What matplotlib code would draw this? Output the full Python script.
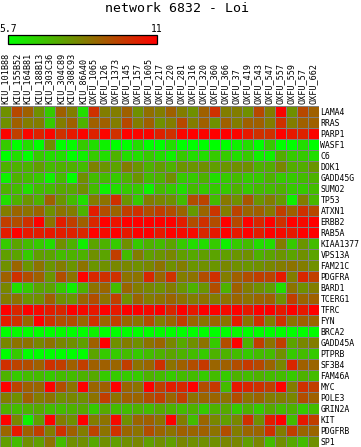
"""Expression heatmap for network 6832 (Loi): genes x samples, green-red scale."""

import matplotlib

matplotlib.use("Agg")
import matplotlib.pyplot as plt
import numpy as np
from matplotlib.colors import LinearSegmentedColormap

TITLE = "network 6832 - Loi"
VMIN, VMAX = 5.7, 11.0

SAMPLES = [
    "KIU_101B88", "KIU_155B52", "KIU_164B81", "KIU_188B13", "KIU_303C36",
    "KIU_304C89", "KIU_308C93", "KIU_86A40", "OXFU_1065", "OXFU_126",
    "OXFU_1373", "OXFU_145", "OXFU_157", "OXFU_1605", "OXFU_217",
    "OXFU_220", "OXFU_281", "OXFU_316", "OXFU_320", "OXFU_360",
    "OXFU_366", "OXFU_37", "OXFU_419", "OXFU_543", "OXFU_547",
    "OXFU_557", "OXFU_559", "OXFU_57", "OXFU_662",
]

GENES = [
    "LAMA4", "RRAS", "PARP1", "WASF1", "C6", "DOK1", "GADD45G", "SUMO2",
    "TP53", "ATXN1", "ERBB2", "RAB5A", "KIAA1377", "VPS13A", "FAM21C",
    "PDGFRA", "BARD1", "TCERG1", "TFRC", "FYN", "BRCA2", "GADD45A",
    "PTPRB", "SF3B4", "FAM46A", "MYC", "POLE3", "GRIN2A", "KIT", "PDGFRB", "SP1",
]

# one row per gene, values in sample order
LAMA4 = [8.0, 9.5, 9.0, 8.0, 6.8, 9.0, 8.4, 6.4, 10.0, 8.4, 8.4, 9.0, 8.0, 8.7, 8.4, 9.0, 8.4, 8.0, 9.0, 10.0, 8.4, 8.4, 8.0, 9.5, 8.4, 10.9, 8.0, 9.5, 9.0]
RRAS = [8.0, 9.0, 8.4, 8.4, 6.8, 8.4, 9.0, 7.3, 9.0, 9.0, 8.4, 9.5, 8.4, 9.0, 8.0, 8.4, 9.5, 8.4, 9.0, 8.0, 9.0, 8.4, 9.0, 9.0, 8.4, 10.0, 8.4, 9.0, 9.0]
PARP1 = [10.9, 9.7, 10.9, 10.3, 10.9, 10.0, 10.5, 10.9, 10.3, 10.9, 10.0, 11.0, 10.9, 10.9, 10.3, 10.0, 10.9, 11.0, 10.9, 11.0, 11.0, 10.9, 10.5, 10.0, 10.0, 11.0, 10.5, 10.3, 10.9]
WASF1 = [6.8, 5.7, 6.4, 5.7, 8.0, 5.7, 5.8, 6.8, 6.4, 6.0, 5.7, 5.7, 6.4, 5.7, 5.7, 6.4, 5.7, 5.7, 5.7, 5.7, 5.7, 6.0, 6.4, 5.7, 6.8, 5.7, 5.7, 6.4, 5.7]
C6 = [5.7, 6.4, 5.7, 6.8, 6.4, 6.4, 5.7, 6.0, 6.8, 6.4, 7.3, 6.4, 6.4, 6.8, 6.4, 6.0, 6.8, 6.4, 6.4, 6.8, 6.8, 6.4, 6.8, 6.0, 6.0, 7.4, 6.8, 6.8, 6.4]
DOK1 = [7.3, 7.3, 7.3, 7.7, 7.1, 7.3, 7.3, 7.1, 8.3, 7.9, 7.6, 8.4, 7.9, 7.3, 7.7, 7.3, 7.9, 7.9, 8.0, 7.7, 7.9, 8.0, 8.0, 7.3, 7.4, 8.2, 7.4, 7.4, 7.9]
GADD45G = [6.0, 7.3, 7.1, 6.8, 6.0, 7.1, 5.7, 8.0, 7.1, 7.1, 6.8, 7.3, 7.9, 7.1, 7.3, 8.0, 6.8, 6.8, 7.3, 6.4, 6.8, 7.1, 6.8, 6.8, 7.3, 6.8, 6.8, 7.1, 7.3]
SUMO2 = [7.3, 7.1, 6.4, 7.1, 7.1, 7.5, 7.5, 8.0, 7.1, 6.0, 6.4, 6.8, 6.8, 6.0, 7.1, 6.8, 6.4, 7.1, 6.8, 6.8, 6.8, 7.3, 6.8, 7.1, 7.1, 7.3, 6.8, 6.8, 7.1]
TP53 = [6.4, 7.3, 7.9, 7.3, 9.0, 7.9, 7.1, 6.4, 8.4, 8.6, 10.0, 7.9, 6.8, 8.4, 8.2, 8.0, 7.1, 9.4, 9.6, 7.1, 8.5, 8.0, 9.2, 7.9, 8.4, 7.8, 6.0, 8.4, 7.2]
ATXN1 = [8.4, 8.9, 8.6, 8.9, 8.0, 8.6, 8.4, 7.3, 10.4, 9.4, 8.9, 9.7, 10.0, 9.4, 9.7, 9.4, 8.9, 7.8, 8.9, 9.9, 8.4, 9.6, 8.9, 9.0, 8.5, 9.7, 9.0, 10.0, 9.5]
ERBB2 = [9.7, 9.4, 10.0, 11.0, 8.6, 10.4, 9.7, 9.0, 10.2, 11.0, 10.6, 11.0, 11.0, 11.0, 11.0, 11.0, 10.4, 9.4, 10.0, 9.4, 11.0, 9.5, 11.0, 10.2, 11.0, 10.0, 11.0, 10.8, 11.0]
RAB5A = [10.4, 11.0, 10.5, 10.4, 10.5, 10.4, 10.3, 10.2, 11.0, 10.8, 11.0, 10.5, 11.0, 11.0, 10.5, 11.0, 10.8, 10.8, 10.2, 10.5, 11.0, 10.5, 11.0, 10.4, 11.0, 10.8, 10.5, 11.0, 11.0]
KIAA1377 = [6.8, 7.6, 7.1, 6.8, 6.4, 8.0, 7.3, 6.0, 7.6, 7.3, 6.8, 8.0, 6.8, 7.3, 7.1, 7.6, 6.8, 6.4, 6.4, 6.8, 6.0, 6.8, 7.1, 6.4, 6.4, 8.4, 6.8, 7.9, 7.1]
VPS13A = [7.7, 7.6, 6.8, 7.7, 7.6, 7.1, 7.3, 7.3, 8.0, 7.6, 9.7, 7.1, 8.4, 7.7, 7.9, 8.2, 7.7, 7.5, 7.7, 7.6, 7.7, 7.9, 8.0, 7.3, 7.6, 7.9, 7.6, 8.0, 7.6]
FAM21C = [8.0, 8.9, 7.9, 8.6, 7.9, 8.4, 7.9, 8.6, 7.9, 8.0, 8.2, 8.2, 8.0, 8.2, 8.6, 8.0, 8.4, 7.9, 8.0, 7.9, 8.2, 8.0, 7.9, 8.0, 8.2, 8.4, 8.6, 8.4, 8.0]
PDGFRA = [9.0, 10.0, 9.4, 9.0, 7.9, 9.4, 8.6, 11.0, 10.2, 10.0, 10.0, 8.6, 8.6, 10.2, 8.9, 10.0, 8.4, 8.6, 9.4, 10.0, 8.4, 9.0, 9.4, 9.7, 9.6, 10.5, 8.4, 10.2, 9.7]
BARD1 = [8.2, 6.4, 6.8, 7.6, 7.6, 6.8, 6.0, 7.3, 8.6, 8.9, 7.1, 8.9, 8.4, 8.2, 8.0, 8.4, 7.9, 7.3, 7.9, 9.4, 7.3, 9.0, 8.4, 8.0, 7.7, 6.4, 8.6, 8.0, 8.4]
TCERG1 = [8.4, 8.6, 7.9, 8.0, 9.0, 8.0, 7.9, 8.9, 9.4, 8.6, 9.7, 8.0, 8.9, 8.4, 8.6, 8.9, 8.6, 8.4, 8.6, 8.4, 8.6, 8.9, 8.6, 8.9, 9.0, 8.0, 9.7, 8.9, 9.0]
TFRC = [11.0, 10.2, 11.0, 10.8, 10.4, 10.2, 11.0, 10.8, 10.5, 11.0, 10.5, 11.0, 11.0, 10.8, 11.0, 10.2, 11.0, 10.5, 11.0, 11.0, 10.8, 11.0, 10.5, 11.0, 11.0, 10.5, 11.0, 10.5, 11.0]
FYN = [10.4, 10.0, 8.9, 11.0, 10.0, 9.4, 9.4, 8.9, 10.0, 8.9, 9.7, 8.9, 8.6, 9.4, 8.4, 8.9, 9.7, 8.9, 8.6, 8.9, 8.6, 10.4, 8.6, 10.0, 8.4, 10.0, 8.6, 9.0, 8.9]
BRCA2 = [5.7, 5.8, 5.7, 5.7, 5.7, 5.8, 5.7, 5.7, 6.0, 5.7, 5.7, 5.7, 5.7, 5.7, 5.8, 5.7, 5.7, 5.7, 5.7, 5.7, 5.7, 5.8, 5.7, 5.7, 5.7, 5.7, 5.7, 5.7, 5.7]
GADD45A = [8.2, 8.6, 8.6, 8.2, 8.6, 8.2, 8.0, 7.7, 9.0, 11.0, 8.0, 8.4, 8.0, 8.6, 8.9, 8.2, 7.5, 8.0, 8.6, 6.8, 9.4, 11.0, 7.3, 9.7, 8.6, 9.7, 7.6, 8.2, 8.4]
PTPRB = [5.7, 6.8, 5.7, 5.7, 5.7, 5.7, 5.7, 5.7, 7.6, 6.8, 6.8, 7.1, 6.8, 7.1, 7.3, 7.6, 7.3, 7.1, 6.8, 7.3, 7.3, 7.1, 6.8, 7.1, 7.1, 8.0, 6.8, 7.1, 6.8]
SF3B4 = [10.0, 9.6, 9.4, 9.0, 10.0, 9.7, 9.0, 9.7, 9.0, 9.0, 8.9, 9.7, 8.6, 8.9, 10.0, 8.6, 9.0, 9.4, 9.8, 8.9, 9.0, 9.4, 9.8, 9.5, 8.9, 8.2, 10.2, 9.0, 8.9]
FAM46A = [7.3, 6.8, 7.1, 7.1, 6.8, 7.1, 7.1, 7.3, 7.5, 6.8, 6.8, 6.8, 6.8, 7.3, 7.1, 6.8, 7.1, 7.1, 6.8, 7.1, 6.8, 7.3, 7.1, 7.3, 7.1, 7.1, 6.8, 7.3, 7.1]
MYC = [11.0, 9.6, 9.0, 8.9, 11.0, 9.4, 8.6, 11.0, 8.9, 9.0, 11.0, 8.9, 8.6, 11.0, 9.7, 10.4, 10.2, 11.0, 9.4, 9.8, 7.1, 10.5, 10.2, 10.0, 9.7, 11.0, 8.4, 10.0, 9.7]
POLE3 = [8.4, 8.0, 9.0, 8.4, 8.6, 8.0, 8.2, 8.0, 8.6, 9.7, 8.6, 9.0, 8.9, 9.4, 9.7, 8.9, 9.7, 8.6, 8.9, 8.9, 8.6, 9.4, 8.6, 8.9, 8.4, 8.4, 8.2, 9.4, 9.0]
GRIN2A = [7.3, 7.1, 7.3, 7.5, 7.1, 7.1, 7.3, 7.5, 6.8, 7.5, 7.1, 7.1, 7.3, 7.1, 7.5, 7.3, 7.1, 7.3, 6.8, 7.3, 7.5, 6.8, 7.3, 6.8, 7.5, 7.1, 7.3, 6.8, 7.1]
KIT = [11.0, 8.2, 6.0, 7.7, 11.0, 8.4, 8.0, 11.0, 8.4, 8.6, 10.8, 8.0, 8.9, 9.0, 8.6, 11.0, 8.4, 7.1, 8.9, 8.2, 7.7, 8.2, 10.0, 8.0, 10.4, 11.0, 7.1, 10.5, 9.7]
PDGFRB = [8.9, 10.5, 9.0, 9.7, 8.4, 10.0, 9.0, 8.4, 9.6, 8.6, 10.0, 8.9, 8.6, 9.4, 8.9, 8.6, 9.0, 8.9, 9.0, 8.6, 9.4, 8.4, 8.9, 8.9, 10.0, 8.4, 9.7, 8.9, 8.9]
SP1 = [7.7, 7.1, 8.0, 7.7, 8.6, 7.1, 8.0, 8.0, 7.5, 8.0, 7.7, 8.0, 8.2, 7.7, 8.0, 7.7, 8.2, 8.0, 8.0, 8.0, 8.2, 8.2, 7.7, 8.2, 7.1, 8.0, 7.5, 7.1, 8.0]

ROWS = [LAMA4, RRAS, PARP1, WASF1, C6, DOK1, GADD45G, SUMO2, TP53, ATXN1, ERBB2,
        RAB5A, KIAA1377, VPS13A, FAM21C, PDGFRA, BARD1, TCERG1, TFRC, FYN, BRCA2,
        GADD45A, PTPRB, SF3B4, FAM46A, MYC, POLE3, GRIN2A, KIT, PDGFRB, SP1]

W, H = 361, 447  # px


def main() -> None:
    plt.rcParams["font.family"] = ["DejaVu Sans Mono"]
    expr = np.array(ROWS)
    cmap = LinearSegmentedColormap.from_list("gr", ["#00ff00", "#808000", "#ff0000"])

    fig = plt.figure(figsize=(W / 100, H / 100), dpi=100)
    ax = fig.add_axes([0, 0, 319 / W, 341 / H])
    mesh = ax.pcolormesh(expr, cmap=cmap, vmin=VMIN, vmax=VMAX,
                         edgecolors="#808080", linewidth=0.7, snap=True)
    ax.set_xlim(0, len(SAMPLES))
    ax.set_ylim(len(GENES), 0)
    for s in ax.spines.values():
        s.set_visible(False)

    ax.xaxis.tick_top()
    ax.set_xticks(np.arange(len(SAMPLES)) + 0.5)
    ax.set_xticklabels(SAMPLES, rotation=90, fontsize=6.1)
    ax.yaxis.tick_right()
    ax.set_yticks(np.arange(len(GENES)) + 0.5)
    ax.set_yticklabels(GENES, fontsize=5.9)
    ax.tick_params(axis="x", length=0, pad=1.5)
    ax.tick_params(axis="y", length=0, pad=1)

    fig.text(177 / W, 1 - 9 / H, TITLE, ha="center", va="center", fontsize=9.5)

    # colour key, top-left
    cax = fig.add_axes([8.3 / W, 1 - 44.3 / H, 148.4 / W, 9.3 / H])
    cb = fig.colorbar(mesh, cax=cax, orientation="horizontal", ticks=[VMIN, VMAX])
    cax.xaxis.set_ticks_position("top")
    cb.set_ticklabels(["5.7", "11"])
    cax.tick_params(length=0, pad=1, labelsize=7)
    cb.outline.set_linewidth(0.9)
    cb.outline.set_edgecolor("black")

    fig.savefig("out.png", dpi=100)


if __name__ == "__main__":
    main()
